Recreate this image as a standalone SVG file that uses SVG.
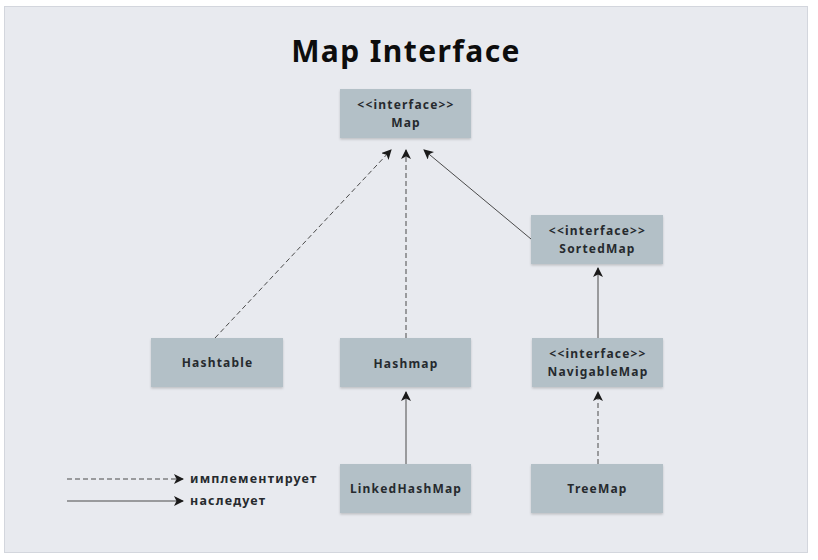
<svg xmlns="http://www.w3.org/2000/svg" width="818" height="560" viewBox="0 0 818 560">
<defs>
<marker id="ah" viewBox="0 0 10 10" refX="9" refY="5" markerWidth="10" markerHeight="10" markerUnits="userSpaceOnUse" orient="auto">
<path d="M0,0 L10,5 L0,10 L2.5,5 Z" fill="#1a1a1a"/>
</marker>
<filter id="sh" x="-10%" y="-10%" width="120%" height="130%">
<feDropShadow dx="0" dy="1.5" stdDeviation="1" flood-color="#000" flood-opacity="0.18"/>
</filter>
<style>
.box{fill:#b3c0c7;filter:url(#sh)}
.t{font-family:"Noto Sans","Open Sans",sans-serif;font-weight:700;font-size:12px;fill:#262a2e;text-anchor:middle;letter-spacing:1.2px}
.c{fill:none;stroke:#4a4a4a;stroke-width:1;marker-end:url(#ah)}
.d{stroke-dasharray:5,3}
.lg{font-family:"Noto Sans","Open Sans",sans-serif;font-weight:700;font-size:12.5px;fill:#262a2e;letter-spacing:1.2px}
</style>
</defs>
<rect x="0" y="0" width="818" height="560" fill="#ffffff"/>
<rect x="4.5" y="6.5" width="803" height="546" fill="#e8eaef" stroke="#d3d6dd" stroke-width="1"/>
<text x="406" y="62" font-family="'Noto Sans','Open Sans',sans-serif" font-weight="700" font-size="30" fill="#0d0d0d" text-anchor="middle" letter-spacing="1.4">Map Interface</text>

<g id="connectors">
<line class="c d" x1="215" y1="338" x2="391" y2="150"/>
<line class="c d" x1="406" y1="338" x2="406" y2="150"/>
<line class="c" x1="531" y1="239" x2="424" y2="150"/>
<line class="c" x1="598" y1="338" x2="598" y2="268"/>
<line class="c" x1="406" y1="464" x2="406" y2="392"/>
<line class="c d" x1="598" y1="464" x2="598" y2="392"/>
</g>

<g id="Map"><rect class="box" x="340" y="89" width="131" height="49"/>
<text class="t" x="406" y="109">&lt;&lt;interface&gt;&gt;</text>
<text class="t" x="406" y="127">Map</text></g>

<g id="SortedMap"><rect class="box" x="531" y="215" width="132" height="49"/>
<text class="t" x="597.5" y="235">&lt;&lt;interface&gt;&gt;</text>
<text class="t" x="597.5" y="253">SortedMap</text></g>

<g id="NavigableMap"><rect class="box" x="532" y="338" width="131" height="49"/>
<text class="t" x="598" y="358">&lt;&lt;interface&gt;&gt;</text>
<text class="t" x="598" y="376">NavigableMap</text></g>

<g id="Hashtable"><rect class="box" x="151" y="338" width="132" height="49"/>
<text class="t" x="217.5" y="367">Hashtable</text></g>

<g id="Hashmap"><rect class="box" x="340" y="338" width="131" height="49"/>
<text class="t" x="406" y="368">Hashmap</text></g>

<g id="LinkedHashMap"><rect class="box" x="340" y="464" width="131" height="49"/>
<text class="t" x="406" y="493">LinkedHashMap</text></g>

<g id="TreeMap"><rect class="box" x="531" y="464" width="132" height="49"/>
<text class="t" x="597.5" y="493">TreeMap</text></g>

<g id="legend">
<line class="c d" x1="67" y1="479" x2="183" y2="479" stroke-dasharray="3,2"/>
<text class="lg" x="190" y="483">имплементирует</text>
<line class="c" x1="67" y1="501" x2="183" y2="501"/>
<text class="lg" x="190" y="505">наследует</text>
</g>
</svg>
